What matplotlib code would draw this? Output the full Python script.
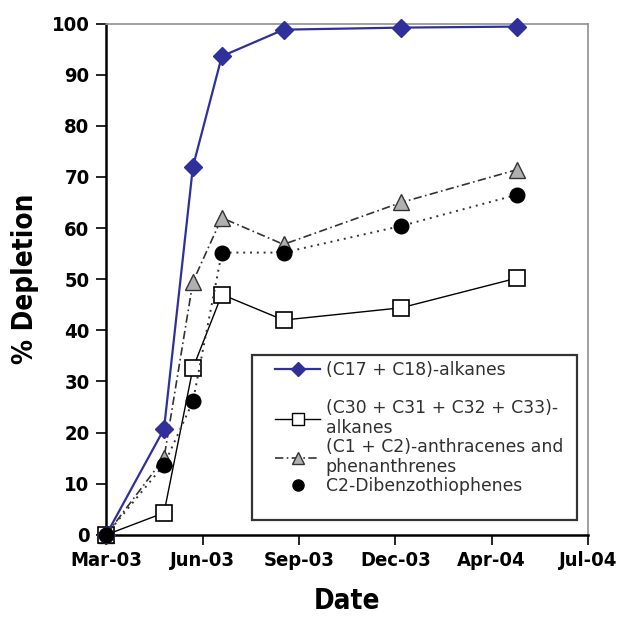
import datetime as dt
import matplotlib
matplotlib.use("Agg")
import matplotlib.pyplot as plt
import matplotlib.dates as mdates
from matplotlib.font_manager import FontProperties
from matplotlib.legend_handler import HandlerLine2D
from matplotlib.lines import Line2D

# sampling dates
dates = ["2003-03-01", "2003-04-30", "2003-05-30", "2003-06-29",
         "2003-09-01", "2004-01-01", "2004-04-30"]

c17_c18 = [0, 20.7, 72.0, 93.6, 98.8, 99.2, 99.4]
c30_c33 = [0, 4.3, 32.6, 47.0, 42.0, 44.4, 50.2]
c1_c2_anth = [0, 15.0, 49.5, 62.0, 56.8, 65.0, 71.4]
c2_dbt = [0, 13.7, 26.1, 55.2, 55.2, 60.4, 66.5]

labels = ["(C17 + C18)-alkanes",
          "(C30 + C31 + C32 + C33)-\nalkanes",
          "(C1 + C2)-anthracenes and\nphenanthrenes",
          "C2-Dibenzothiophenes"]

x = [dt.datetime.strptime(d, "%Y-%m-%d") for d in dates]
x0 = dt.datetime(2003, 3, 1)
ticks = [x0 + dt.timedelta(days=100 * i) for i in range(6)]

narrow = dict(family="DejaVu Sans", stretch="condensed", weight="bold")
blue = "#30309a"

fig = plt.figure(figsize=(6.21, 6.19), dpi=100)
ax = fig.add_axes([0.171, 0.136, 0.776, 0.826])

ax.plot(x, c17_c18, color=blue, lw=1.6, marker="D", ms=9,
        mfc=blue, mec=blue, zorder=5, clip_on=False)
ax.plot(x, c30_c33, color="black", lw=1.0, marker="s", ms=11,
        mfc="white", mec="black", mew=1.2, zorder=4, clip_on=False)
ax.plot(x, c1_c2_anth, color="#333333", lw=1.2, ls=(0, (5, 2, 1, 2)), marker="^",
        ms=11, mfc="#b0b0b0", mec="#333333", mew=1.0, zorder=3, clip_on=False)
ax.plot(x, c2_dbt, color="#333333", lw=1.4, ls=(0, (1, 2.5)), marker="o",
        ms=10.5, mfc="black", mec="black", zorder=6, clip_on=False)

ax.set_xlim(ticks[0], ticks[-1])
ax.set_ylim(0, 100)
ax.set_xticks(ticks)
ax.xaxis.set_major_formatter(mdates.DateFormatter("%b-%y"))
ax.set_yticks(range(0, 101, 10))
ax.tick_params(axis="both", direction="out", length=7, width=1.2, pad=5)
for lab in ax.get_xticklabels() + ax.get_yticklabels():
    lab.set_fontproperties(FontProperties(**narrow, size=14.5))

for side in ["left", "bottom"]:
    ax.spines[side].set_linewidth(1.8)
    ax.spines[side].set_color("black")
for side in ["top", "right"]:
    ax.spines[side].set_linewidth(1.2)
    ax.spines[side].set_color("#909090")

ax.set_xlabel("Date", fontproperties=FontProperties(**narrow, size=20), labelpad=12)
ax.set_ylabel("% Depletion", fontproperties=FontProperties(**narrow, size=20), labelpad=9)

# legend: blank rows after the first and last entries, as in the original box
blank = Line2D([], [], ls="none")
handles = [
    Line2D([], [], color=blue, lw=1.6, marker="D", ms=7, mfc=blue),
    blank,
    Line2D([], [], color="black", lw=1.0, marker="s", ms=8, mfc="white", mec="black"),
    Line2D([], [], color="#333333", lw=1.2, ls=(0, (5, 2, 1, 2)), marker="^", ms=8,
           mfc="#b0b0b0", mec="#333333"),
    Line2D([], [], ls="none", marker="o", ms=8, mfc="black", mec="black"),
    blank,
]
leg_labels = [labels[0], " ", labels[1], labels[2], labels[3], " "]
leg = ax.legend(handles, leg_labels, loc="lower left",
                bbox_to_anchor=(0.303, 0.029, 0.674, 0.33), mode="expand",
                prop=FontProperties(family="DejaVu Sans", size=12.4), frameon=True,
                fancybox=False, handlelength=3.66, handletextpad=0.3,
                labelspacing=0.08, borderpad=0.3, borderaxespad=0,
                handler_map={Line2D: HandlerLine2D(xpad=1.05)})
leg.get_frame().set_edgecolor("black")
leg.get_frame().set_linewidth(1.6)
for t in leg.get_texts():
    t.set_color("#303030")
    t.set_linespacing(1.12)

fig.savefig("out.png", dpi=100)
